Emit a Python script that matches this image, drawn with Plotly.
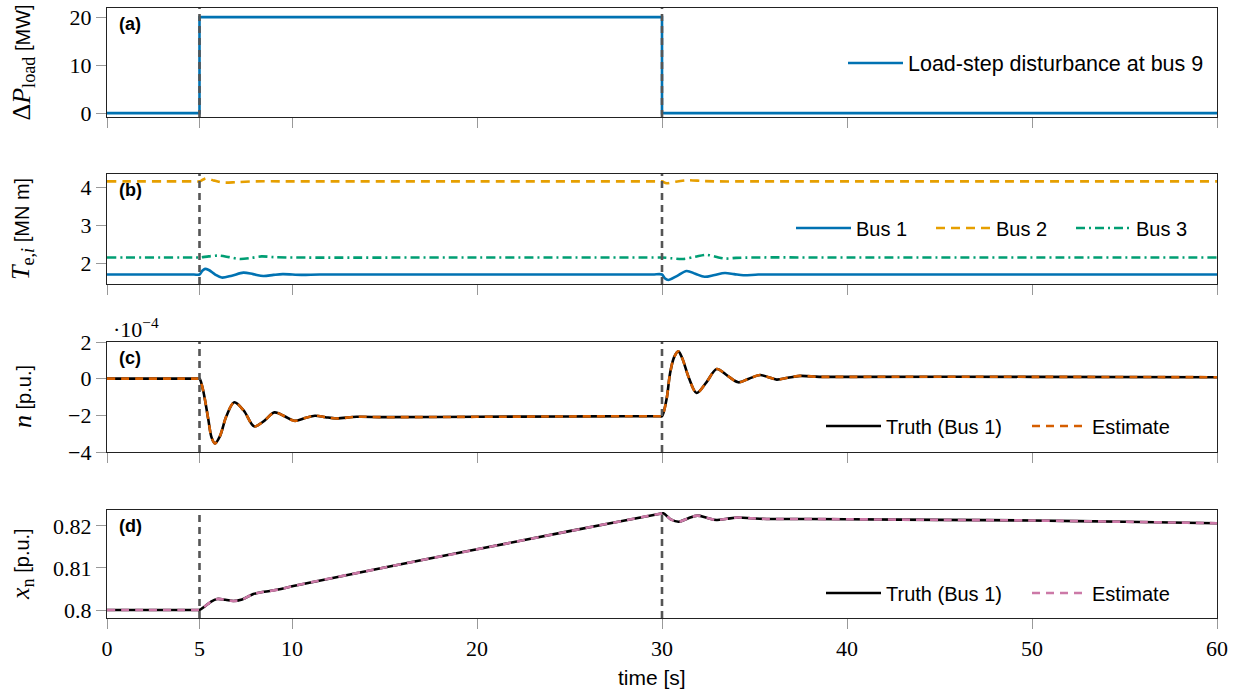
import plotly.graph_objects as go

# ---------------- data ----------------
t_load = [0, 5, 5, 30, 30, 60]
p_load = [0, 0, 20, 20, 0, 0]

t_b1 = [0, 1, 2, 3, 4, 4.7, 5.0, 5.15, 5.3, 5.5, 5.85, 6.2, 6.75, 7.37, 7.9, 8.45, 9.0, 9.5, 10.5, 11.5, 15, 20, 25,
        28, 29.5, 30.0, 30.15, 30.34, 30.8, 31.33, 31.8, 32.3, 32.85, 33.4, 33.9, 34.4, 35.2, 36.5, 40, 50, 60]
te_b1 = [1.70, 1.70, 1.70, 1.70, 1.70, 1.70, 1.70, 1.80, 1.85, 1.82, 1.70, 1.62, 1.67, 1.75, 1.71, 1.66, 1.69, 1.71, 1.69, 1.70, 1.70, 1.70, 1.70,
         1.70, 1.70, 1.70, 1.60, 1.555, 1.66, 1.795, 1.72, 1.64, 1.69, 1.74, 1.71, 1.68, 1.70, 1.70, 1.70, 1.70, 1.70]

t_b2 = [0, 1, 2, 3, 4, 4.7, 5.0, 5.2, 5.39, 5.8, 6.3, 7.0, 8.0, 10, 20, 28, 29.7, 30.0, 30.25, 30.7, 31.4, 32.2, 33, 35, 40, 60]
te_b2 = [4.16, 4.16, 4.16, 4.16, 4.16, 4.16, 4.16, 4.21, 4.24, 4.18, 4.13, 4.14, 4.16, 4.16, 4.16, 4.16, 4.16, 4.16, 4.11, 4.15, 4.19, 4.17, 4.16, 4.16, 4.16, 4.16]

t_b3 = [0, 1, 2, 3, 4, 4.7, 5.0, 5.5, 6.0, 6.6, 7.2, 7.8, 8.36, 9.0, 10, 20, 28, 29.5, 30.0, 30.5, 31.15, 31.8, 32.4, 32.9, 33.4, 34.0, 35, 40, 60]
te_b3 = [2.15, 2.15, 2.15, 2.15, 2.15, 2.15, 2.15, 2.18, 2.20, 2.16, 2.11, 2.14, 2.18, 2.16, 2.15, 2.15, 2.15, 2.15, 2.15, 2.13, 2.11, 2.17, 2.22, 2.17, 2.12, 2.14, 2.15, 2.15, 2.15]

t_n = [0, 2, 4, 4.9, 5.0, 5.2, 5.47, 5.65, 5.84, 6.1, 6.45, 6.88, 7.4, 7.95, 8.5, 9.05, 9.6, 10.13, 10.7, 11.24, 11.8,
       12.4, 13.5, 15, 20, 25, 28, 29.9, 30.0, 30.25, 30.43, 30.65, 30.88, 31.1, 31.45, 31.87, 32.4, 32.96, 33.55,
       34.13, 34.7, 35.3, 35.75, 36.2, 36.8, 37.46, 38.5, 40, 50, 60]
n_truth = [0, 0, 0, 0, 0, -0.66, -2.19, -3.2, -3.53, -3.15, -2.05, -1.29, -1.75, -2.6, -2.3, -1.84, -2.05, -2.3, -2.15, -2.02, -2.1,
           -2.17, -2.08, -2.1, -2.08, -2.06, -2.05, -2.05, -2.05, -1.1, 0.26, 1.16, 1.49, 1.1, 0.05, -0.78, -0.2, 0.53, 0.15,
           -0.2, 0.0, 0.2, 0.08, -0.05, 0.05, 0.15, 0.1, 0.1, 0.1, 0.08]
n_est = list(n_truth)

t_x = [0, 2, 4, 4.9, 5.0, 5.3, 5.6, 5.95, 6.4, 6.83, 7.3, 7.91, 8.4, 8.8, 9.4, 10.07, 15, 20, 25, 29.9, 30.07,
       30.5, 30.92, 31.4, 31.91, 32.45, 32.95, 33.5, 34.1, 34.9, 35.66, 38, 40, 45, 50, 55, 60]
x_truth = [0.8, 0.8, 0.8, 0.8, 0.8, 0.8009, 0.8019, 0.80262, 0.80245, 0.80214, 0.8025, 0.8038, 0.8043, 0.80452, 0.8050, 0.80571,
           0.81012, 0.81444, 0.81877, 0.82291, 0.82302, 0.8215, 0.82102, 0.8218, 0.82245, 0.8219, 0.82143, 0.8217,
           0.8220, 0.8218, 0.82167, 0.82165, 0.8216, 0.82145, 0.8213, 0.8210, 0.82066]
x_est = list(x_truth)

x_ticks = [0, 5, 10, 20, 30, 40, 50, 60]
events = [5, 30]

# ---------------- style ----------------
BLUE = "#0072B2"
ORANGE = "#E69F00"
GREEN = "#009E73"
VERM = "#D55E00"
PINK = "#CC79A7"
SANS = "Liberation Sans"
SERIF = "Liberation Serif"
LW = 2.6

fig = go.Figure()

fig.add_trace(go.Scatter(x=t_load, y=p_load, mode="lines", name="Load-step disturbance at bus 9",
                         line=dict(color=BLUE, width=LW), xaxis="x", yaxis="y", legend="legend",
                         showlegend=True))

fig.add_trace(go.Scatter(x=t_b1, y=te_b1, mode="lines", name="Bus 1",
                         line=dict(color=BLUE, width=LW, shape="spline", smoothing=0.9),
                         xaxis="x2", yaxis="y2", legend="legend2"))
fig.add_trace(go.Scatter(x=t_b2, y=te_b2, mode="lines", name="Bus 2",
                         line=dict(color=ORANGE, width=LW, dash="9px,6px", shape="spline", smoothing=0.9),
                         xaxis="x2", yaxis="y2", legend="legend2"))
fig.add_trace(go.Scatter(x=t_b3, y=te_b3, mode="lines", name="Bus 3",
                         line=dict(color=GREEN, width=LW, dash="9px,4px,2px,4px", shape="spline", smoothing=0.9),
                         xaxis="x2", yaxis="y2", legend="legend2"))

fig.add_trace(go.Scatter(x=t_n, y=n_truth, mode="lines", name="Truth (Bus 1)",
                         line=dict(color="black", width=LW, shape="spline", smoothing=0.9),
                         xaxis="x3", yaxis="y3", legend="legend3"))
fig.add_trace(go.Scatter(x=t_n, y=n_est, mode="lines", name="Estimate",
                         line=dict(color=VERM, width=LW, dash="8px,6px", shape="spline", smoothing=0.9),
                         xaxis="x3", yaxis="y3", legend="legend3"))

fig.add_trace(go.Scatter(x=t_x, y=x_truth, mode="lines", name="Truth (Bus 1)",
                         line=dict(color="black", width=LW, shape="spline", smoothing=0.9),
                         xaxis="x4", yaxis="y4", legend="legend4"))
fig.add_trace(go.Scatter(x=t_x, y=x_est, mode="lines", name="Estimate",
                         line=dict(color=PINK, width=LW, dash="8px,6px", shape="spline", smoothing=0.9),
                         xaxis="x4", yaxis="y4", legend="legend4"))

H = 610.0
def dom(top, bot):
    return [(618 - bot) / H, (618 - top) / H]

domains = [dom(8, 117), dom(174, 284), dom(342, 452), dom(510, 618)]
yranges = [[-0.8, 21.9], [1.45, 4.355], [-4, 2], [0.7981, 0.8238]]
yticks = [([0, 10, 20], ["0", "10", "20"]),
          ([2, 3, 4], ["2", "3", "4"]),
          ([-4, -2, 0, 2], ["−4", "−2", "0", "2"]),
          ([0.8, 0.81, 0.82], ["0.8", "0.81", "0.82"])]

layout = dict(
    template="none",
    width=1245, height=696,
    margin=dict(l=107, r=28, t=8, b=78, autoexpand=False),
    paper_bgcolor="white", plot_bgcolor="white",
    font=dict(family=SANS, size=20, color="black"),
    showlegend=True,
)

for i in range(4):
    sx = "" if i == 0 else str(i + 1)
    layout["xaxis" + sx] = dict(
        domain=[0, 1], anchor="y" + sx, range=[0, 60], automargin=False,
        tickmode="array", tickvals=x_ticks, ticktext=[str(v) for v in x_ticks],
        showticklabels=(i == 3), ticks="outside", ticklen=10, tickwidth=1.2, tickcolor="#999999",
        showline=True, mirror=True, linecolor="#222222", linewidth=1.3,
        showgrid=False, zeroline=False,
        tickfont=dict(family=SERIF, size=22, color="black"),
        matches=None if i == 0 else "x",
    )
    tv, tt = yticks[i]
    layout["yaxis" + sx] = dict(
        domain=domains[i], anchor="x" + sx, range=yranges[i], automargin=False,
        tickmode="array", tickvals=tv, ticktext=tt,
        ticks="outside", ticklen=10, tickwidth=1.2, tickcolor="#999999",
        showline=True, mirror=True, linecolor="#222222", linewidth=1.3,
        showgrid=False, zeroline=False,
        tickfont=dict(family=SERIF, size=22, color="black"),
    )

def legend_cfg(xl, yc, ew, fs=20):
    return dict(orientation="h", x=(xl - 107) / 1110.0, xanchor="left",
                y=(618 - yc) / H, yanchor="middle",
                bgcolor="rgba(255,255,255,0)", borderwidth=0,
                font=dict(family=SANS, size=fs, color="black"),
                itemwidth=55, tracegroupgap=0, itemclick=False,
                entrywidth=ew, entrywidthmode="pixels")

layout["legend"] = legend_cfg(843, 63, 0, 21.5)
layout["legend2"] = legend_cfg(791, 228, 70)
layout["legend3"] = legend_cfg(821, 426, 136)
layout["legend4"] = legend_cfg(821, 593, 136)

shapes = []
for i in range(4):
    sx = "" if i == 0 else str(i + 1)
    for ev in events:
        shapes.append(dict(type="line", xref="x" + sx, yref="y" + sx + " domain",
                           x0=ev, x1=ev, y0=0, y1=1, layer="above",
                           line=dict(color="#555555", width=2.6, dash="7px,5px")))
layout["shapes"] = shapes

M = '<span style="font-family:Liberation Serif;font-size:26px">'
ytitles = [
    M + 'Δ<i>P</i><sub>load</sub></span> [MW]',
    M + '<i>T</i><sub>e,<i>i</i></sub></span> [MN m]',
    M + '<i>n</i></span> [p.u.]',
    M + '<i>x</i><sub>n</sub></span> [p.u.]',
]
labels = ["(a)", "(b)", "(c)", "(d)"]
ann = []
for i in range(4):
    sx = "" if i == 0 else str(i + 1)
    ann.append(dict(text=ytitles[i], xref="paper", yref="y" + sx + " domain",
                    x=(22 - 107) / 1110.0, y=0.5, xanchor="center", yanchor="middle",
                    textangle=-90, showarrow=False, font=dict(family=SANS, size=20, color="black")))
    ann.append(dict(text="<b>" + labels[i] + "</b>", xref="x" + sx + " domain", yref="y" + sx + " domain",
                    x=0, y=1, xanchor="left", yanchor="middle", xshift=10, yshift=-16,
                    showarrow=False, font=dict(family=SANS, size=18, color="black")))
ann.append(dict(text="·10<sup>−4</sup>", xref="x3 domain", yref="y3 domain", x=0, y=1,
                xanchor="left", yanchor="bottom", xshift=4, yshift=-2, showarrow=False,
                font=dict(family=SERIF, size=22, color="black")))
ann.append(dict(text="time [s]", xref="paper", yref="paper", x=(652 - 107) / 1110.0, y=(618 - 677) / H,
                xanchor="center", yanchor="middle", showarrow=False,
                font=dict(family=SANS, size=21, color="black")))
layout["annotations"] = ann

fig.update_layout(**layout)
fig.write_html("out.html")
